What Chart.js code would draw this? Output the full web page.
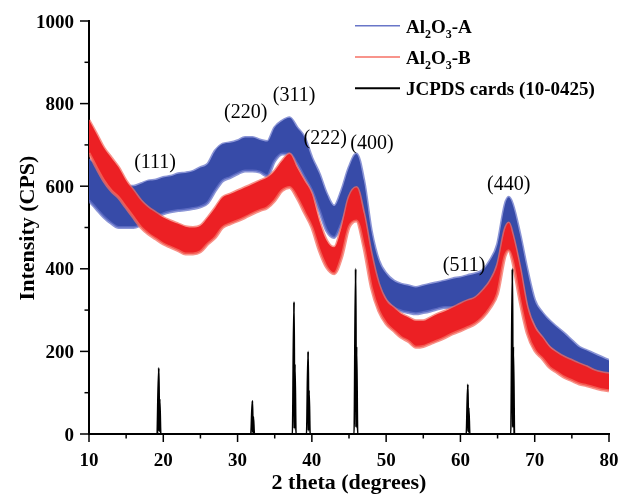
<!DOCTYPE html>
<html>
<head>
<meta charset="utf-8">
<script src="https://cdn.jsdelivr.net/npm/chart.js@4.4.1/dist/chart.umd.min.js"></script>
<style>
  html, body { margin: 0; padding: 0; background: #fff; }
  #wrap { width: 618px; height: 497px; position: relative; }
</style>
</head>
<body>
<div id="wrap"><canvas id="xrd"></canvas></div>
<script>
// 2 theta positions where the noisy bands were read
const theta = [10,11,12,13,14,15,16,17,18,19,20,21,22,23,24,25,26,27,28,29,30,31,32,33,34,35,36,37,38,39,40,
  41,42,43,44,45,46,47,48,49,50,51,52,53,54,55,56,57,58,59,60,61,62,63,64,65,66,66.5,67,68,69,70,71,72,73,74,75,76,77,78,79,80];

// Al2O3-A (blue) upper / lower edge of the noise band, CPS
const aHigh = [665,650,625,610,600,600,600,606,613,615,621,624,630,632,636,645,654,686,702,705,710,718,718,712,708,742,758,766,742,718,669,
  630,581,552,589,645,678,613,492,420,388,371,363,359,355,359,363,367,371,376,379,384,388,396,420,460,555,573,557,484,396,323,294,274,258,243,226,210,202,194,186,178];
const aLow = [565,545,525,510,500,500,500,506,515,524,533,538,541,543,546,550,560,589,613,621,630,637,637,634,625,661,678,678,654,621,589,
  541,492,476,509,557,581,524,412,347,323,306,298,294,291,294,298,303,306,306,306,315,323,323,347,380,485,500,476,395,299,258,231,210,194,178,166,154,146,137,129,123];

// Al2O3-B (red) upper / lower edge of the noise band, CPS
const bHigh = [760,727,693,669,645,613,589,565,548,536,524,516,509,502,500,504,524,548,573,581,589,597,605,613,621,637,661,678,645,613,581,
  516,468,452,500,573,597,533,436,363,323,306,291,282,274,274,282,291,298,306,315,323,330,347,370,410,495,511,484,403,306,258,234,210,197,186,178,170,163,154,149,146];
const bLow = [680,645,613,589,572,548,524,500,484,472,460,452,444,436,436,441,460,476,500,509,516,524,533,541,548,565,589,597,572,536,500,
  444,403,388,427,500,516,452,355,298,267,250,234,224,210,212,219,226,234,243,250,258,267,282,305,340,430,444,420,323,243,202,183,161,149,137,129,121,117,112,107,105];

// JCPDS cards (10-0425) reference lines
const cardTheta = [19.4, 32.0, 37.6, 39.5, 45.9, 61.0, 67.0];
const cardHeight = [160, 80, 320, 200, 400, 120, 400];

// peak labels
const peakLabels = ['(111)', '(220)', '(311)', '(222)', '(400)', '(511)', '(440)'];
const peakTheta = [18.9, 31.1, 37.6, 41.8, 48.1, 60.5, 66.5];
const peakCps = [657, 778, 819, 715, 703, 408, 604];

const xTicks = [10, 20, 30, 40, 50, 60, 70, 80];
const yTicks = [0, 200, 400, 600, 800, 1000];

const serif = '"Liberation Serif", "Times New Roman", serif';
const blueCore = 'rgb(55,75,168)', blueEdge = 'rgba(100,114,200,0.75)', blueKey = 'rgb(105,118,200)';
const redCore = 'rgb(236,32,36)', redEdge = 'rgba(246,110,98,0.75)', redKey = 'rgb(246,112,100)';

function pts(xs, ys) { return xs.map((x, i) => ({ x: x, y: ys[i] })); }

const cardPts = [];
cardTheta.forEach((t, i) => {
  const h = cardHeight[i];
  cardPts.push({ x: t - 0.2, y: 0 }, { x: t, y: h }, { x: t + 0.06, y: h * 0.04 },
               { x: t + 0.11, y: h * 0.53 }, { x: t + 0.25, y: 0 });
});

// draw text with subscript parts, e.g. Al2O3
function richText(ctx, parts, x, y) {
  parts.forEach(p => {
    ctx.font = p[1] ? 'bold 12px ' + serif : 'bold 19px ' + serif;
    ctx.fillText(p[0], x, y + (p[1] ? 5 : 0));
    x += ctx.measureText(p[0]).width;
  });
}

const extras = {
  id: 'extras',
  afterDraw(chart) {
    const ctx = chart.ctx, xs = chart.scales.x, ys = chart.scales.y;
    const area = chart.chartArea;
    ctx.save();
    ctx.strokeStyle = '#000';
    ctx.fillStyle = '#000';
    ctx.lineWidth = 1.5;
    // tick marks (major + minor)
    for (let v = 10; v <= 80; v += 5) {
      const p = xs.getPixelForValue(v), len = v % 10 === 0 ? 8 : 4.5;
      ctx.beginPath(); ctx.moveTo(p, area.bottom); ctx.lineTo(p, area.bottom + len); ctx.stroke();
    }
    for (let v = 0; v <= 1000; v += 100) {
      const p = ys.getPixelForValue(v), len = v % 200 === 0 ? 9 : 4.5;
      ctx.beginPath(); ctx.moveTo(area.left, p); ctx.lineTo(area.left - len, p); ctx.stroke();
    }
    // tick labels
    ctx.font = 'bold 19px ' + serif;
    ctx.textBaseline = 'alphabetic';
    ctx.textAlign = 'center';
    xTicks.forEach(v => ctx.fillText(String(v), xs.getPixelForValue(v), area.bottom + 32));
    ctx.textAlign = 'right';
    yTicks.forEach(v => ctx.fillText(String(v), area.left - 15, ys.getPixelForValue(v) + 6.5));

    // axis titles
    ctx.font = 'bold 22px ' + serif;
    ctx.textAlign = 'center';
    ctx.fillText('2 theta (degrees)', 349, 489);
    ctx.save();
    ctx.translate(34, 228);
    ctx.rotate(-Math.PI / 2);
    ctx.fillText('Intensity (CPS)', 0, 0);
    ctx.restore();

    // peak labels
    ctx.font = '20px ' + serif;
    ctx.textBaseline = 'middle';
    peakLabels.forEach((s, i) => {
      ctx.fillText(s, xs.getPixelForValue(peakTheta[i]), ys.getPixelForValue(peakCps[i]));
    });

    // legend
    const rows = [
      { color: blueKey, y: 25.7, parts: [['Al', 0], ['2', 1], ['O', 0], ['3', 1], ['-A', 0]] },
      { color: redKey, y: 57, parts: [['Al', 0], ['2', 1], ['O', 0], ['3', 1], ['-B', 0]] },
      { color: '#000', y: 88.3, parts: [['JCPDS cards (10-0425)', 0]] }
    ];
    ctx.textAlign = 'left';
    ctx.textBaseline = 'alphabetic';
    rows.forEach(r => {
      ctx.strokeStyle = r.color;
      ctx.lineWidth = r.color === '#000' ? 2 : 1.5;
      ctx.beginPath(); ctx.moveTo(355, r.y); ctx.lineTo(400, r.y); ctx.stroke();
      ctx.fillStyle = '#000';
      richText(ctx, r.parts, 406, r.y + 7);
    });
    ctx.restore();
  }
};

new Chart(document.getElementById('xrd'), {
  type: 'line',
  data: {
    datasets: [
      { label: 'A high', data: pts(theta, aHigh), borderColor: blueEdge, borderWidth: 3, fill: false, order: 4 },
      { label: 'A low', data: pts(theta, aLow), borderColor: blueEdge, borderWidth: 3, fill: '-1', backgroundColor: blueCore, order: 3 },
      { label: 'B high', data: pts(theta, bHigh), borderColor: redEdge, borderWidth: 3, fill: false, order: 2 },
      { label: 'B low', data: pts(theta, bLow), borderColor: redEdge, borderWidth: 3, fill: '-1', backgroundColor: redCore, order: 1 },
      { label: 'JCPDS cards (10-0425)', data: cardPts, borderColor: '#000', borderWidth: 1.9, fill: false, tension: 0, order: 0 }
    ]
  },
  options: {
    responsive: true,
    maintainAspectRatio: false,
    animation: false,
    events: [],
    parsing: false,
    layout: { padding: { top: 21, right: 9, left: 0, bottom: 0 } },
    elements: {
      point: { radius: 0 },
      line: { tension: 0.35, cubicInterpolationMode: 'monotone' }
    },
    plugins: { legend: { display: false }, tooltip: { enabled: false } },
    scales: {
      x: {
        type: 'linear', min: 10, max: 80,
        border: { color: '#000', width: 2 },
        grid: { display: false, drawTicks: false },
        ticks: { display: false },
        afterFit: s => { s.height = 63; }
      },
      y: {
        min: 0, max: 1000,
        border: { color: '#000', width: 2 },
        grid: { display: false, drawTicks: false },
        ticks: { display: false },
        afterFit: s => { s.width = 89; }
      }
    }
  },
  plugins: [extras]
});
</script>
</body>
</html>
